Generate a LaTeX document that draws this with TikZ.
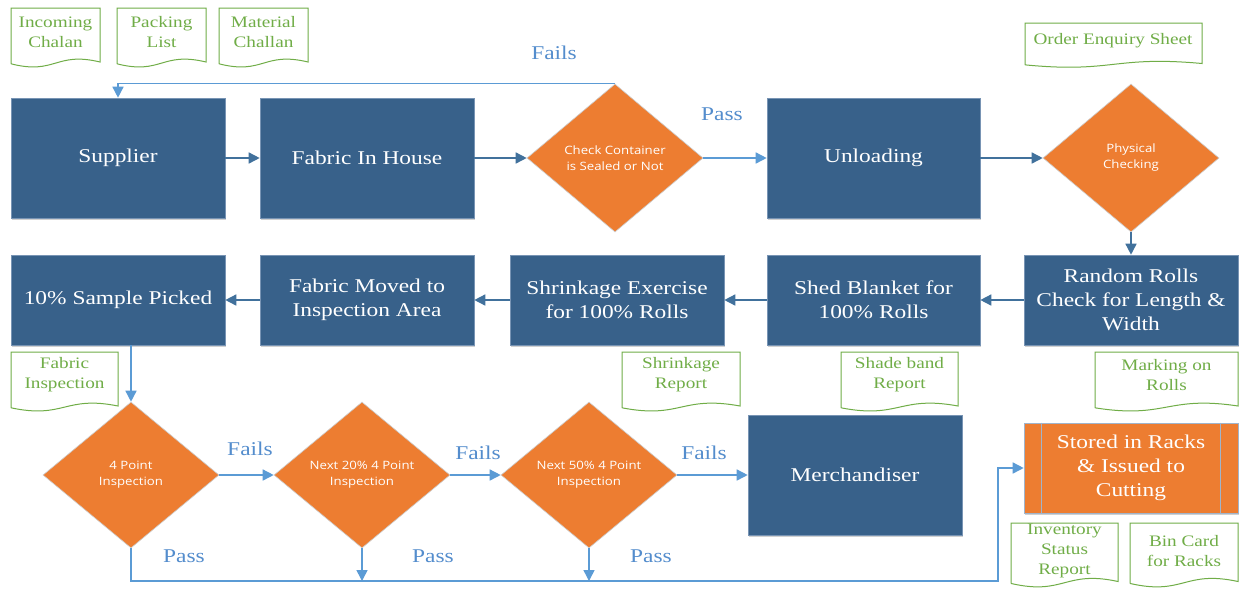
\documentclass[tikz,border=0pt]{standalone}
\usepackage{fontspec}
\setmainfont[FakeStretch=1.2]{Liberation Serif}
\newfontfamily\dsans[FakeStretch=1.15]{Open Sans}
\usetikzlibrary{shapes.geometric,arrows.meta,shadows}

\definecolor{boxblue}{RGB}{56,97,138}
\definecolor{boxedge}{RGB}{120,148,180}
\definecolor{orng}{RGB}{237,125,49}
\definecolor{dgreen}{RGB}{112,173,71}
\definecolor{darrow}{RGB}{65,113,156}
\definecolor{larrow}{RGB}{91,155,213}
\definecolor{lbltext}{RGB}{84,141,205}

\tikzset{
  procbox/.style={rectangle, fill=boxblue, draw=boxedge, line width=0.6pt,
    text=white, font=\fontsize{19.5}{24}\selectfont, align=center,
    inner sep=0pt, minimum width=214pt,
    drop shadow={shadow xshift=1pt, shadow yshift=-2pt, fill=black!30, opacity=.6}},
  tallbox/.style={procbox, minimum height=120pt},
  flatbox/.style={procbox, minimum height=90pt},
  decision/.style={diamond, fill=orng, draw=black!20, line width=0.6pt,
    text=white, font=\dsans\fontsize{11.5}{16}\selectfont, align=center,
    inner sep=0pt, minimum width=176pt, minimum height=148pt},
  docline/.style={draw=dgreen, line width=1pt, fill=white},
  doctext/.style={text=dgreen, font=\fontsize{16}{20}\selectfont,
    align=center, inner sep=0pt},
  lbl/.style={text=lbltext, font=\fontsize{19.5}{24}\selectfont, inner sep=0pt},
  darr/.style={draw=darrow, line width=1.5pt, -{Triangle[length=11pt,width=11pt]}},
  larr/.style={draw=larrow, line width=1.5pt, -{Triangle[length=11pt,width=11pt]}},
}

% document symbol: flat top, wavy bottom (left, top, right, bottom)
\newcommand{\docsheet}[4]{%
  \draw[docline] ({#1},{#2+0.93*(#4-#2)}) -- ({#1},{#2}) -- ({#3},{#2})
    -- ({#3},{#2+0.9*(#4-#2)})
    .. controls ({#1+0.5*(#3-#1)},{#2+0.72*(#4-#2)})
           and ({#1+0.5*(#3-#1)},{#2+1.12*(#4-#2)}) .. ({#1},{#2+0.93*(#4-#2)});}

\begin{document}
\begin{tikzpicture}[x=1pt,y=-1pt]
\clip (0,0) rectangle (1239,590);
\fill[white] (0,0) rectangle (1239,590);

% ---- documents ----
\docsheet{11}{8}{100}{68}
\node[doctext] (docIncoming) at (55.5,32) {Incoming\\Chalan};
\docsheet{117}{8}{206}{68}
\node[doctext] (docPacking) at (161.5,32) {Packing\\List};
\docsheet{219}{8}{308}{68}
\node[doctext] (docMaterial) at (263.5,32) {Material\\Challan};
\docsheet{1025}{23}{1202}{68}
\node[doctext] (docOrder) at (1113,41) {Order Enquiry Sheet};
\docsheet{11}{352}{118}{412}
\node[doctext] (docFabric) at (64.5,375) {Fabric\\Inspection};
\docsheet{622}{352}{740}{412}
\node[doctext] (docShrink) at (681,375) {Shrinkage\\Report};
\docsheet{841}{352}{958}{412}
\node[doctext] (docShade) at (899.5,375) {Shade band\\Report};
\docsheet{1095}{352}{1238}{412}
\node[doctext] (docMarking) at (1166.5,375) {Marking on\\Rolls};
\docsheet{1011}{523}{1118}{588}
\node[doctext] (docInventory) at (1064.5,551) {Inventory\\Status\\Report};
\docsheet{1130}{523}{1238}{588}
\node[doctext] (docBin) at (1184,551) {Bin Card\\for Racks};

% ---- first row ----
\node[tallbox] (supplier) at (118,158) {Supplier};
\node[tallbox] (fabric) at (367,158) {Fabric In House};
\node[decision] (check) at (615,158) {Check Container\\is Sealed or Not};
\node[tallbox, minimum width=213pt] (unload) at (873.5,158) {Unloading};
\node[decision] (phys) at (1131,158) {Physical\\Checking};

% ---- second row ----
\node[flatbox] (random) at (1131,300) {Random Rolls\\Check for Length \&\\Width};
\node[flatbox, minimum width=213pt] (shed) at (873.5,300) {Shed Blanket for\\100\% Rolls};
\node[flatbox] (shrink) at (617,300) {Shrinkage Exercise\\for 100\% Rolls};
\node[flatbox] (moved) at (367,300) {Fabric Moved to\\Inspection Area};
\node[flatbox] (sample) at (118,300) {10\% Sample Picked};

% ---- third row ----
\node[decision, minimum height=146pt] (d1) at (131,475) {4 Point\\Inspection};
\node[decision, minimum height=146pt] (d2) at (362,475) {Next 20\% 4 Point\\Inspection};
\node[decision, minimum height=146pt] (d3) at (589,475) {Next 50\% 4 Point\\Inspection};
\node[tallbox] (merch) at (855,475) {Merchandiser};
\node[flatbox, fill=orng, draw=boxedge!70!white] (stored) at (1131,468)
  {Stored in Racks\\\& Issued to\\Cutting};
\draw[boxedge!70!white, line width=0.8pt]
  ([xshift=18pt]stored.north west) -- ([xshift=18pt]stored.south west)
  ([xshift=-18pt]stored.north east) -- ([xshift=-18pt]stored.south east);

% ---- connectors ----
\draw[darr] (supplier) -- (fabric);
\draw[darr] (fabric) -- (check);
\draw[larr] (check) -- (unload);
\draw[darr] (unload) -- (phys);
\draw[darr] (phys) -- (random);
\draw[larr] (check.north) -- (check.north -| supplier.north) -- (supplier.north);

\draw[darr] (random) -- (shed);
\draw[darr] (shed) -- (shrink);
\draw[darr] (shrink) -- (moved);
\draw[darr] (moved) -- (sample);
\draw[larr] (sample.south -| d1.north) -- (d1.north);

\draw[larr] (d1) -- (d2);
\draw[larr] (d2) -- (d3);
\draw[larr] (d3) -- (merch);

\coordinate (busL) at (131,581);
\coordinate (busR) at (998,581);
\draw[larr] (d1.south) -- (busL) -- (busR) |- (stored.west);
\draw[larr] (d2.south) -- (d2.south |- busL);
\draw[larr] (d3.south) -- (d3.south |- busL);

% ---- labels ----
\node[lbl] (lFailsTop) at (554,53) {Fails};
\node[lbl] (lPassTop) at (722,114) {Pass};
\node[lbl] (lFails1) at (250,449) {Fails};
\node[lbl] (lFails2) at (478,453) {Fails};
\node[lbl] (lFails3) at (704,453) {Fails};
\node[lbl] (lPass1) at (184,556) {Pass};
\node[lbl] (lPass2) at (433,556) {Pass};
\node[lbl] (lPass3) at (651,556) {Pass};
\end{tikzpicture}
\end{document}
